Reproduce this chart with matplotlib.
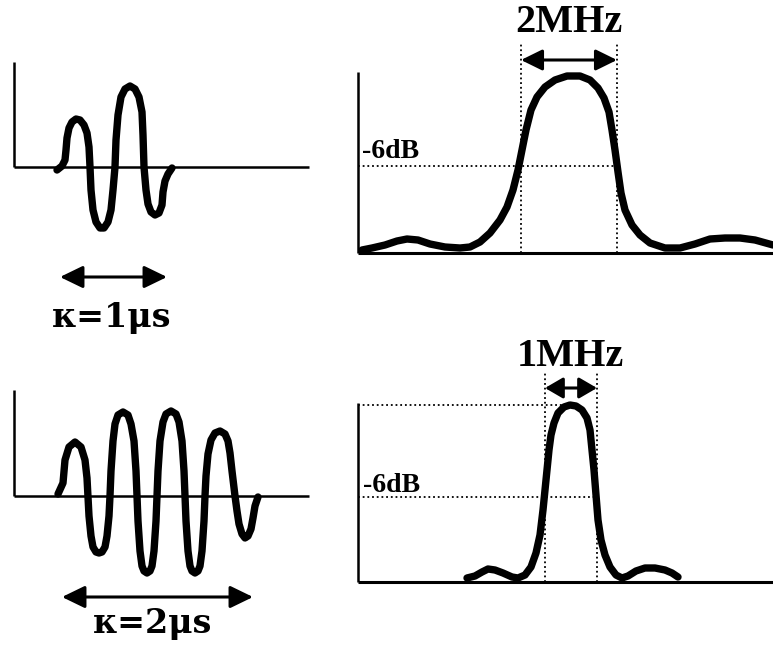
import matplotlib
matplotlib.use("Agg")
import matplotlib.pyplot as plt

W, H = 773, 648
DPI = 100

# ---- data (panel-local units: x to the right, y upward, origin at axes corner) ----
# Top-left: short pulse (time trace)
pulse1_t = [43, 48, 51, 52, 53, 55, 58, 62, 66, 70, 73, 75, 76, 77, 79, 82, 86, 90,
            94, 97, 99, 101, 102, 104, 107, 111, 116, 121, 125, 128, 129, 130, 132,
            134, 137, 141, 145, 148, 149, 151, 154, 158]
pulse1_a = [-3, 1, 7, 17, 29, 39, 45, 48, 47, 42, 34, 20, 0, -23, -43, -55, -61, -61,
            -55, -43, -23, 0, 27, 52, 70, 78, 81, 78, 70, 55, 32, 0, -23,
            -37, -45, -48, -46, -38, -25, -14, -7, -1]

# Bottom-left: long pulse (time trace)
pulse2_t = [44, 49, 51, 55, 61, 67, 71, 73, 74,
            75, 77, 79, 82, 85, 88, 91, 93, 95, 96,
            97, 99, 101, 104, 109, 114, 117, 120, 122, 123,
            124, 126, 128, 130, 133, 136, 138, 140, 142, 143,
            144, 146, 149, 152, 157, 162, 165, 168, 170, 171,
            172, 174, 176, 178, 181, 184, 186, 188, 190, 191,
            192, 194, 197, 201, 206, 211, 214, 216, 218, 221,
            223, 225, 228, 231, 234, 237, 239, 241, 244]
pulse2_a = [2, 13, 36, 49, 54, 49, 36, 18, -1,
            -20, -40, -51, -56, -57, -56, -51, -40, -20, 0,
            25, 55, 72, 81, 84, 81, 72, 55, 25, 0,
            -25, -55, -70, -75, -77, -75, -70, -55, -25, 0,
            25, 55, 74, 82, 85, 82, 74, 55, 25, 0,
            -25, -55, -70, -75, -77, -75, -70, -55, -25, 0,
            20, 42, 56, 63, 65, 62, 55, 43, 25, 0,
            -15, -28, -38, -42, -40, -33, -22, -10, -1]

# Top-right: spectrum of short pulse
spec1_f = [4, 14, 27, 39, 49, 60, 72, 87, 102, 112, 122, 132, 142, 149, 155, 160,
           164, 168, 173, 179, 187, 197, 209, 222, 232, 240, 246, 251, 254, 257,
           260, 263, 267, 274, 282, 292, 307, 322, 337, 352, 367, 382, 397, 415]
spec1_m = [3, 5, 8, 12, 14, 13, 9, 6, 5, 6, 11, 20, 33, 46, 63, 83,
           103, 123, 143, 156, 166, 173, 177, 177, 173, 165, 155, 141, 123, 103,
           81, 60, 43, 28, 18, 10, 5, 5, 9, 14, 15, 15, 13, 8]

# Bottom-right: spectrum of long pulse
spec2_f = [109, 117, 124, 130, 137, 145, 154, 160, 167, 173, 178, 182, 185, 187,
           189, 191, 193, 196, 200, 206, 212, 218, 224, 229, 232, 234, 236, 238,
           240, 243, 247, 252, 258, 264, 270, 278, 287, 297, 307, 314, 320]
spec2_m = [4, 6, 10, 13, 12, 9, 5, 4, 7, 15, 29, 47, 72, 92,
           112, 132, 147, 159, 169, 175, 177, 176, 172, 164, 152, 132, 112, 87,
           62, 42, 27, 15, 7, 4, 6, 11, 14, 14, 12, 9, 5]

# annotations
pulse_labels = ["\u03ba=1\u03bcs", "\u03ba=2\u03bcs"]
bw_labels = ["2MHz", "1MHz"]
db_label = "-6dB"
pulse_arrows = [(46, 153, -110), (48, 239, -101)]      # t0, t1, level
pulse_label_pos = [(98, -150), (139, -127)]
pulse_axes = [(295, 105), (295, 106)]                   # baseline length, vertical height
spec_axes = [(415, 181), (415, 179)]
bw_edges = [(163, 259), (187, 239)]
bw_line_top = [211, 210]
bw_arrow_level = [193, 194]
bw_label_pos = [(211, 230), (212, 225)]
db_level = [87, 85]
db_label_pos = [(4, 101), (5, 97)]
peak_level = [None, 177]
peak_f = [None, 212]
bw_head_len = [0.65, 0.55]

fig = plt.figure(figsize=(W / DPI, H / DPI), dpi=DPI)
fig.patch.set_facecolor("white")


def panel(ox, oy, x0, x1, y0, y1):
    ax = fig.add_axes([x0 / W, 1 - y1 / H, (x1 - x0) / W, (y1 - y0) / H])
    ax.set_xlim(x0 - ox, x1 - ox)
    ax.set_ylim(oy - y1, oy - y0)
    ax.axis("off")
    return ax


CURVE_LW = 5.3
AX_LW = 1.8
DOT = dict(color="black", lw=1.3, linestyle=(0, (1, 1.6)))
serif = ["Liberation Serif", "DejaVu Serif"]
wide_serif = ["DejaVu Serif"]

# ---- left panels (time traces) ----
left_panels = [panel(14, 167, 0, 350, 0, 340), panel(14, 496, 0, 350, 340, 648)]
for i, (ax, t, a) in enumerate(zip(left_panels, [pulse1_t, pulse2_t], [pulse1_a, pulse2_a])):
    blen, vh = pulse_axes[i]
    ax.plot([0, blen], [0, 0], color="black", lw=AX_LW, solid_capstyle="butt")
    ax.plot([0, 0], [0, vh], color="black", lw=AX_LW, solid_capstyle="butt")
    ax.plot(t, a, color="black", lw=CURVE_LW, solid_joinstyle="round",
            solid_capstyle="round")
    t0, t1, lev = pulse_arrows[i]
    ax.annotate("", xy=(t1, lev), xytext=(t0, lev),
                arrowprops=dict(arrowstyle="<|-|>,head_length=0.7,head_width=0.34",
                                mutation_scale=20, lw=2.2, color="black",
                                shrinkA=0, shrinkB=0))
    lx, ly = pulse_label_pos[i]
    ax.text(lx, ly, pulse_labels[i], ha="center", va="center", fontsize=24,
            fontweight="bold", family=wide_serif, color="black")

# ---- right panels (spectra) ----
right_panels = [panel(358, 253, 350, 773, 0, 340), panel(358, 582, 350, 773, 340, 648)]
for i, (ax, f, m) in enumerate(zip(right_panels, [spec1_f, spec2_f], [spec1_m, spec2_m])):
    blen, vh = spec_axes[i]
    ax.plot([0, blen], [0, 0], color="black", lw=AX_LW + 0.4, solid_capstyle="butt")
    ax.plot([0, 0], [0, vh], color="black", lw=AX_LW, solid_capstyle="butt")
    fl, fr = bw_edges[i]
    ax.plot([0, fr], [db_level[i], db_level[i]], **DOT)
    if peak_level[i] is not None:
        ax.plot([0, peak_f[i]], [peak_level[i], peak_level[i]], **DOT)
    for fe in (fl, fr):
        ax.plot([fe, fe], [0, bw_line_top[i]], **DOT)
    ax.plot(f, m, color="black", lw=CURVE_LW, solid_joinstyle="round",
            solid_capstyle="round")
    ax.annotate("", xy=(fr, bw_arrow_level[i]), xytext=(fl, bw_arrow_level[i]),
                arrowprops=dict(arrowstyle="<|-|>,head_length=%g,head_width=0.32" % bw_head_len[i],
                                mutation_scale=20, lw=2.2, color="black",
                                shrinkA=0, shrinkB=0))
    bx, by = bw_label_pos[i]
    ax.text(bx, by, bw_labels[i], ha="center", va="center", fontsize=29,
            fontweight="bold", family=serif, color="black")
    dx, dy = db_label_pos[i]
    ax.text(dx, dy, db_label, ha="left", va="center", fontsize=20,
            fontweight="bold", family=serif, color="black")

fig.savefig("out.png", dpi=DPI, facecolor="white")
